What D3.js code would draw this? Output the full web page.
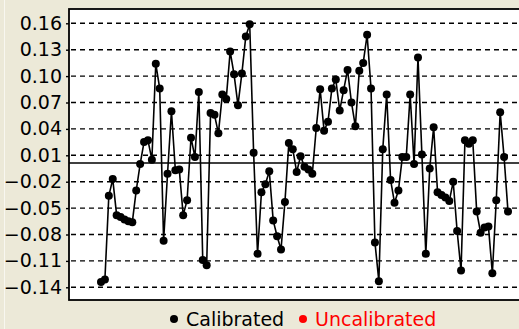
<!DOCTYPE html>
<html>
<head>
<meta charset="utf-8">
<script src="https://cdn.jsdelivr.net/npm/d3@7"></script>
<style>
  html, body { margin: 0; padding: 0; background: #ece9d8; }
  svg { display: block; }
</style>
</head>
<body>
<div id="chart"></div>
<script>
// values, left to right
const calibrated = [
  -0.134, -0.131, -0.036, -0.017, -0.058, -0.060, -0.063, -0.065, -0.066, -0.030,
   0.000,  0.025,  0.027,  0.005,  0.114,  0.086, -0.087, -0.011,  0.060, -0.007,
  -0.006, -0.058, -0.041,  0.030,  0.008,  0.082, -0.109, -0.115,  0.058,  0.056,
   0.035,  0.079,  0.074,  0.128,  0.102,  0.067,  0.103,  0.145,  0.159,  0.013,
  -0.102, -0.032, -0.023, -0.008, -0.064, -0.082, -0.097, -0.043,  0.024,  0.017,
  -0.009,  0.009, -0.003, -0.006, -0.011,  0.041,  0.085,  0.038,  0.048,  0.086,
   0.096,  0.061,  0.084,  0.107,  0.070,  0.043,  0.106,  0.115,  0.147,  0.086,
  -0.089, -0.133,  0.017,  0.079, -0.018, -0.044, -0.030,  0.008,  0.008,  0.079,
   0.000,  0.121,  0.011, -0.102, -0.005,  0.042, -0.032, -0.035, -0.038, -0.042,
  -0.020, -0.076, -0.121,  0.027,  0.023,  0.027, -0.054, -0.078, -0.072, -0.071,
  -0.124, -0.041,  0.059,  0.008, -0.054
];
const yTicks = [0.16, 0.13, 0.10, 0.07, 0.04, 0.01, -0.02, -0.05, -0.08, -0.11, -0.14];
const refLine = 0.0013;
const legendItems = ["Calibrated", "Uncalibrated"];
const legendColors = ["#000000", "#ff0000"];

const width = 519, height = 329;
const plot = { left: 69, top: 9, right: 522, bottom: 300 };
const font = "'DejaVu Sans', Verdana, sans-serif";

const svg = d3.select("#chart").append("svg")
    .attr("width", width)
    .attr("height", height);

svg.append("rect")
    .attr("x", 0).attr("y", 0)
    .attr("width", width).attr("height", height)
    .attr("fill", "#ece9d8");

// left panel edge
svg.append("line")
    .attr("x1", 4.5).attr("x2", 4.5)
    .attr("y1", 0).attr("y2", height)
    .attr("stroke", "#f8f7f0").attr("stroke-width", 1);

const x = d3.scaleLinear()
    .domain([0, calibrated.length - 1])
    .range([101, 508]);

const y = d3.scaleLinear()
    .domain([-0.14, 0.16])
    .range([287.3, 23.3]);

// plot background
svg.append("rect")
    .attr("x", plot.left).attr("y", plot.top)
    .attr("width", plot.right - plot.left)
    .attr("height", plot.bottom - plot.top)
    .attr("fill", "#ffffff")
    .attr("stroke", "#000")
    .attr("stroke-width", 1.8);

// dashed grid
svg.append("g")
    .selectAll("line")
    .data(yTicks)
    .enter().append("line")
    .attr("x1", plot.left + 2)
    .attr("x2", width)
    .attr("y1", d => y(d))
    .attr("y2", d => y(d))
    .attr("stroke", "#000")
    .attr("stroke-width", 1.4)
    .attr("stroke-dasharray", "5,4");

// y axis
const yAxis = d3.axisLeft(y)
    .tickValues(yTicks)
    .tickSize(3)
    .tickPadding(4)
    .tickFormat(d3.format(".2f"));

const axisG = svg.append("g")
    .attr("transform", `translate(${plot.left},0)`)
    .call(yAxis);
axisG.select(".domain").remove();
axisG.selectAll(".tick line").attr("stroke", "#000").attr("stroke-width", 1.4);
axisG.selectAll(".tick text")
    .attr("fill", "#000")
    .style("font-family", font)
    .style("font-size", "19px");

// reference line
svg.append("line")
    .attr("x1", plot.left)
    .attr("x2", width)
    .attr("y1", y(refLine))
    .attr("y2", y(refLine))
    .attr("stroke", "#000")
    .attr("stroke-width", 1.6);

// series
const line = d3.line()
    .x((d, i) => x(i))
    .y(d => y(d));

svg.append("path")
    .datum(calibrated)
    .attr("fill", "none")
    .attr("stroke", "#000")
    .attr("stroke-width", 1.6)
    .attr("d", line);

svg.append("g")
    .selectAll("circle")
    .data(calibrated)
    .enter().append("circle")
    .attr("cx", (d, i) => x(i))
    .attr("cy", d => y(d))
    .attr("r", 4)
    .attr("fill", "#000");

// legend
const legendPos = [{ dot: 174, text: 186 }, { dot: 303, text: 315 }];
const legend = svg.append("g");
legendItems.forEach((name, i) => {
    legend.append("circle")
        .attr("cx", legendPos[i].dot)
        .attr("cy", 319)
        .attr("r", 4)
        .attr("fill", legendColors[i]);
    legend.append("text")
        .attr("x", legendPos[i].text)
        .attr("y", 326)
        .attr("fill", legendColors[i])
        .style("font-family", font)
        .style("font-size", "19px")
        .text(name);
});
</script>
</body>
</html>
